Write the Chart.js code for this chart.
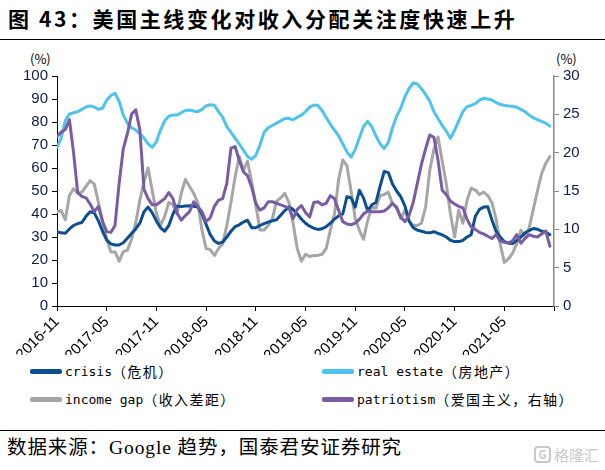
<!DOCTYPE html>
<html lang="zh-CN">
<head>
<meta charset="UTF-8">
<title>图 43</title>
<script src="https://cdn.jsdelivr.net/npm/chart.js"></script>
<style>
  * { margin: 0; padding: 0; box-sizing: border-box; }
  body { width: 605px; height: 470px; background: #fff; position: relative; overflow: hidden; font-family: 'Noto Sans CJK SC', sans-serif; color: #000; }
  .titulo { position: absolute; left: 8px; top: 3px; font-size: 21px; font-weight: 700; letter-spacing: 2.6px; white-space: nowrap; }
  .linha { position: absolute; left: 0; width: 605px; height: 1px; background: #000; }
  .unidade { position: absolute; top: 49px; font-size: 13px; }
  #wrap { position: absolute; left: 0; top: 0; width: 605px; height: 355px; }
  .legenda { position: absolute; font-family: 'DejaVu Sans Mono', monospace; font-size: 13px; white-space: nowrap; display: flex; align-items: center; }
  .legenda i { display: inline-block; width: 32px; height: 5px; border-radius: 2px; margin-right: 3px; }
  .legenda span.cjk { font-family: 'Noto Sans CJK SC', sans-serif; font-size: 14px; letter-spacing: 1.4px; }
  .fonte { position: absolute; left: 7px; top: 431px; font-family: 'Liberation Serif', 'Noto Sans CJK SC', serif; font-size: 19.5px; letter-spacing: 0.9px; white-space: nowrap; }
  .marca { position: absolute; right: 6px; top: 444px; color: #c9c9c9; font-size: 15px; display: flex; align-items: center; gap: 3px; }
  .marca b { display: inline-block; width: 17px; height: 17px; border: 2px solid #c9c9c9; border-radius: 4px; font-size: 11px; line-height: 13px; text-align: center; }
</style>
</head>
<body>
<div class="titulo">图 43：美国主线变化对收入分配关注度快速上升</div>
<div class="linha" style="top:39px"></div>
<div class="unidade" style="left:30px">(%)</div>
<div class="unidade" style="left:556px">(%)</div>
<div id="wrap"><canvas id="grafico" width="605" height="355"></canvas></div>

<div class="legenda" style="left:30px; top:361px"><i style="background:#0B4F93"></i>crisis<span class="cjk">（危机）</span></div>
<div class="legenda" style="left:322px; top:361px"><i style="background:#4DC3EF"></i>real estate<span class="cjk">（房地产）</span></div>
<div class="legenda" style="left:30px; top:389px"><i style="background:#A6A6A6"></i>income gap<span class="cjk">（收入差距）</span></div>
<div class="legenda" style="left:322px; top:389px"><i style="background:#7A5CA4"></i>patriotism<span class="cjk">（爱国主义，右轴）</span></div>

<div class="linha" style="top:430px"></div>
<div class="fonte">数据来源：Google 趋势，国泰君安证券研究</div>
<div class="marca"><b>G</b>格隆汇</div>

<script>
// meses desde 2016-11, um ponto a cada meio mes
const xTickLabels = ['2016-11', '2017-05', '2017-11', '2018-05', '2018-11', '2019-05', '2019-11', '2020-05', '2020-11', '2021-05'];

const crisis = [
  32.3, 31.8, 31.6, 33.5, 35, 35.8, 36.3, 39, 41, 40.5,
  37, 32.5, 28.7, 27, 26.5, 26.5, 27.5, 29.5, 31.5, 33.5,
  36, 41, 43, 40.5, 37, 34, 32.5, 35, 40, 43.5,
  43.2, 43.5, 43.6, 43.4, 43, 40, 35.5, 31, 28.3, 27.2,
  27.8, 30, 32.5, 34.5, 35.3, 36.5, 37.3, 34, 34, 35,
  35.8, 36.5, 37, 37.5, 39.5, 41.5, 43, 42, 40, 37.8,
  36, 34.7, 33.8, 33.3, 33.6, 34.5, 36, 37.8, 39.2, 40,
  47.5, 47, 43, 50.3, 47, 41.5, 44, 45, 52, 58.5,
  58, 53, 50, 47.5, 43.5, 37, 34, 33, 32.5, 32,
  31.8, 32.3, 31.6, 30.9, 30, 28.6, 28, 28, 28.5, 30,
  31, 39, 42, 43, 43.2, 37.5, 32.5, 30, 28, 27.3,
  27.2, 28.5, 30, 31.8, 32.8, 33.7, 33.4, 32.5, 32.2, 31
];

const realEstate = [
  69, 73, 80.5, 83.5, 84, 84.5, 85.5, 86.5, 87, 86.5,
  85.5, 86, 89.5, 91.5, 92.5, 89, 83, 79.5, 77.5, 76.5,
  75, 73, 70.5, 69, 71.5, 76.5, 80.5, 82.5, 83, 83,
  84, 85, 85.2, 84.8, 84.5, 85.5, 87, 87.5, 87.3, 84.5,
  82, 78, 75.5, 73, 70.5, 67.8, 65, 63.8, 65.5, 70,
  75.5, 77.5, 78.5, 79.5, 80.5, 81.5, 81.5, 81, 82, 83,
  84.5, 86.5, 87.4, 87.2, 85, 82, 79, 76.5, 74, 70.5,
  67, 64.7, 68, 73, 78, 80.3, 78, 74, 70.5, 68.5,
  71, 77.5, 82.5, 86, 91, 94.5, 97, 96.5, 94.5, 92,
  89, 84.5, 81.5, 78.5, 76, 72.9, 76.5, 80.5, 84.5, 86.7,
  87.2, 88, 89.5, 90.3, 90, 89.6, 88.5, 87.6, 87.3, 87,
  86.8, 86.4, 85.5, 84.5, 83, 81.8, 81, 80.3, 79.5, 78.2
];

const incomeGap = [
  41, 41.5, 37.5, 48, 51, 49, 49.5, 52, 54.5, 53,
  45, 37, 29, 23.5, 23.5, 19.5, 23.6, 24.3, 29, 36,
  46, 54, 60, 50, 40.3, 35, 39, 45, 44, 40,
  49, 55, 52, 49, 45, 33, 25, 24.5, 22, 25,
  27, 35, 45, 56, 65, 59, 63, 54, 44, 33,
  33, 35, 38, 45.5, 47, 49, 45, 36, 25, 19.5,
  22.5, 21.5, 22, 22, 22.5, 25, 33, 40, 55, 63.5,
  61, 50, 38, 33, 29, 37, 43, 42.5, 48, 48.5,
  49.5, 44.5, 43.2, 38, 41.5, 37, 35, 35, 36, 43,
  59, 68, 73.5, 63, 53, 40, 30, 41.7, 36, 46,
  51.2, 50.4, 48.5, 49.5, 48, 45, 38, 27, 19, 20.5,
  23, 27, 33, 30, 34, 42, 50, 57.5, 62, 65
];

// eixo direito
const patriotism = [
  22.1, 22.7, 23, 24.3, 20, 14.8, 14.3, 14.1, 13.3, 12.3,
  13, 11, 9.7, 9.6, 10.5, 16, 20.5, 22.5, 25, 25.6,
  23, 15.2, 14, 13.2, 13.2, 13.6, 14, 14.8, 14, 12.1,
  11.2, 11.8, 12.3, 13.6, 13, 12.3, 11, 11.5, 13, 13.8,
  14, 16, 20.6, 20.8, 19, 17.5, 17, 15.5, 13.4, 12.5,
  12.8, 13.6, 13.6, 13.4, 13.2, 13, 12.8, 11.4, 12.6, 13.1,
  12.2, 11.6, 13.5, 13.6, 13.2, 13.4, 14.4, 14, 12.5, 11,
  10.7, 10.6, 10.8, 11.3, 12, 12.4, 12.3, 12.3, 12.3, 12.4,
  12.8, 13.4, 12.8, 11.6, 11, 11.8, 13.5, 16, 18.5, 20.5,
  22.3, 22, 19, 15.1, 14.5, 13.7, 13.3, 13, 12.8, 11.3,
  10.3, 10, 9.6, 9.4, 9.1, 8.8, 9.3, 8.5, 8.3, 8.2,
  8.5, 9.3, 8.2, 8.8, 9.3, 9.1, 9, 9.4, 9.8, 7.8
];

const meses = crisis.map((_, i) => i * 0.5);
const pontos = arr => arr.map((v, i) => ({ x: meses[i], y: v }));

const fonteEixo = { family: "'Liberation Sans', Arial, sans-serif", size: 15 };
const corTexto = '#0f1a4a';

new Chart(document.getElementById('grafico'), {
  type: 'line',
  data: {
    datasets: [
      { label: 'patriotism', data: pontos(patriotism), yAxisID: 'y2', borderColor: '#7A5CA4' },
      { label: 'crisis', data: pontos(crisis), yAxisID: 'y', borderColor: '#0B4F93' },
      { label: 'income gap', data: pontos(incomeGap), yAxisID: 'y', borderColor: '#A6A6A6' },
      { label: 'real estate', data: pontos(realEstate), yAxisID: 'y', borderColor: '#4DC3EF' }
    ]
  },
  options: {
    responsive: false,
    animation: false,
    datasets: { line: { borderWidth: 3, pointRadius: 0, tension: 0, borderJoinStyle: 'round', borderCapStyle: 'round' } },
    layout: { autoPadding: false, padding: { top: 76, left: 0, right: 0, bottom: 0 } },
    plugins: { legend: { display: false }, tooltip: { enabled: false } },
    scales: {
      x: {
        type: 'linear', min: 0, max: 60,
        afterFit: s => { s.height = 49; },
        border: { color: '#000', width: 1 },
        grid: { drawOnChartArea: false, tickLength: 5, color: '#000' },
        ticks: {
          stepSize: 6, autoSkip: false, maxRotation: 45, minRotation: 45, padding: 2,
          color: '#000', font: { family: "'Liberation Sans', Arial, sans-serif", size: 15 },
          callback: v => xTickLabels[v / 6] || ''
        }
      },
      y: {
        position: 'left', min: 0, max: 100,
        afterFit: s => { s.width = 57; },
        border: { color: '#000', width: 1 },
        grid: { drawOnChartArea: false, tickLength: 5, color: '#000' },
        ticks: { stepSize: 10, color: corTexto, font: fonteEixo, padding: 4 }
      },
      y2: {
        position: 'right', min: 0, max: 30,
        afterFit: s => { s.width = 51; },
        border: { color: '#888', width: 1.5 },
        grid: { drawOnChartArea: false, tickLength: 5, color: '#888' },
        ticks: { stepSize: 5, color: corTexto, font: fonteEixo, padding: 4 }
      }
    }
  }
});
</script>
</body>
</html>
